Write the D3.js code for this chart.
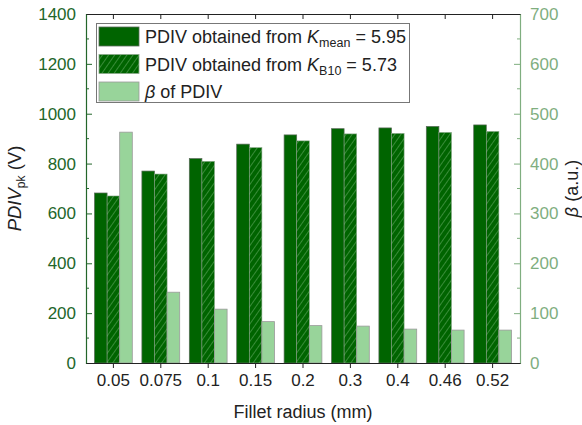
<!DOCTYPE html>
<html>
<head>
<meta charset="utf-8">
<script src="https://cdn.jsdelivr.net/npm/d3@7"></script>
<style>
  body { margin: 0; background: #fff; }
  svg { font-family: "Liberation Sans", Arial, sans-serif; }
</style>
</head>
<body>
<script>
const categories = ["0.05", "0.075", "0.1", "0.15", "0.2", "0.3", "0.4", "0.46", "0.52"];
const pdivMean = [682, 770, 820, 878, 915, 940, 943, 949, 955];
const pdivB10 = [670, 758, 809, 864, 891, 919, 921, 925, 929];
const beta = [463, 142, 108, 83, 75, 74, 68, 66, 66];
const leftTicks = [0, 200, 400, 600, 800, 1000, 1200, 1400];
const rightTicks = [0, 100, 200, 300, 400, 500, 600, 700];

main();

function main() {
  const width = 582, height = 425;
  const left = 86, right = 520, top = 14, bottom = 363;

  const darkGreen = "#006400";
  const lightGreen = "#98d49a";
  const leftCol = "#23662a";
  const rightCol = "#7fae7f";

  const svg = d3.select("body").append("svg")
    .attr("width", width).attr("height", height);

  const defs = svg.append("defs");
  const pat = defs.append("pattern")
    .attr("id", "hatch")
    .attr("patternUnits", "userSpaceOnUse")
    .attr("width", 5).attr("height", 5)
    .attr("patternTransform", "rotate(35)");
  pat.append("rect").attr("width", 5).attr("height", 5).attr("fill", darkGreen);
  pat.append("line").attr("x1", 0).attr("y1", 0).attr("x2", 0).attr("y2", 5)
    .attr("stroke", "#72b472").attr("stroke-width", 1);

  const x = d3.scaleBand().domain(categories).range([left, right])
    .paddingInner(0).paddingOuter(0.078);
  const yL = d3.scaleLinear().domain([0, 1400]).range([bottom, top]);
  const yR = d3.scaleLinear().domain([0, 700]).range([bottom, top]);
  const bw = 12.6;
  const cx = d => x(d) + x.bandwidth() / 2;

  // bars
  svg.append("g").selectAll("rect").data(categories).join("rect")
    .attr("x", d => cx(d) - 1.5 * bw)
    .attr("y", (d, i) => yL(pdivMean[i]))
    .attr("width", bw)
    .attr("height", (d, i) => bottom - yL(pdivMean[i]))
    .attr("fill", darkGreen).attr("stroke", "#5a6a5a").attr("stroke-width", 0.7);

  svg.append("g").selectAll("rect").data(categories).join("rect")
    .attr("x", d => cx(d) - 0.5 * bw)
    .attr("y", (d, i) => yL(pdivB10[i]))
    .attr("width", bw)
    .attr("height", (d, i) => bottom - yL(pdivB10[i]))
    .attr("fill", "url(#hatch)").attr("stroke", "#8aa88a").attr("stroke-width", 0.6);

  svg.append("g").selectAll("rect").data(categories).join("rect")
    .attr("x", d => cx(d) + 0.5 * bw)
    .attr("y", (d, i) => yR(beta[i]))
    .attr("width", bw)
    .attr("height", (d, i) => bottom - yR(beta[i]))
    .attr("fill", lightGreen).attr("stroke", "#9a9a9a").attr("stroke-width", 0.8);

  // left axis
  const gL = svg.append("g").attr("transform", `translate(${left},0)`)
    .call(d3.axisLeft(yL).tickValues(leftTicks).tickFormat(d3.format("d"))
      .tickSize(-6).tickPadding(10));
  gL.selectAll(".tick line").attr("stroke", leftCol);
  gL.selectAll(".tick text").attr("fill", leftCol).style("font-size", "17px");
  gL.select(".domain").attr("stroke", leftCol).attr("stroke-width", 1.2);
  gL.append("g").selectAll("line").data(d3.range(100, 1400, 200)).join("line")
    .attr("x1", 0).attr("x2", 3).attr("y1", d => yL(d)).attr("y2", d => yL(d))
    .attr("stroke", leftCol);

  // right axis
  const gR = svg.append("g").attr("transform", `translate(${right},0)`)
    .call(d3.axisRight(yR).tickValues(rightTicks).tickFormat(d3.format("d"))
      .tickSize(-6).tickPadding(10));
  gR.selectAll(".tick line").attr("stroke", rightCol);
  gR.selectAll(".tick text").attr("fill", rightCol).style("font-size", "17px");
  gR.select(".domain").attr("stroke", rightCol).attr("stroke-width", 1.2);
  gR.append("g").selectAll("line").data(d3.range(50, 700, 100)).join("line")
    .attr("x1", 0).attr("x2", -3).attr("y1", d => yR(d)).attr("y2", d => yR(d))
    .attr("stroke", rightCol);

  // bottom axis
  const gB = svg.append("g").attr("transform", `translate(0,${bottom})`)
    .call(d3.axisBottom(x).tickSize(5).tickPadding(6).tickSizeOuter(0));
  gB.selectAll(".tick text").attr("fill", "#222").style("font-size", "17px");
  gB.select(".domain").attr("stroke", "#222").attr("stroke-width", 1.2);
  gB.selectAll(".tick line").attr("stroke", "#222");

  // top axis
  const gT = svg.append("g").attr("transform", `translate(0,${top})`)
    .call(d3.axisTop(x).tickSize(-5).tickFormat("").tickSizeOuter(0));
  gT.select(".domain").attr("stroke", "#222").attr("stroke-width", 1.2);
  gT.selectAll(".tick line").attr("stroke", "#222");

  // axis titles
  svg.append("text").attr("x", (left + right) / 2).attr("y", 418)
    .attr("text-anchor", "middle").attr("fill", "#222").style("font-size", "18px")
    .text("Fillet radius (mm)");

  const tl = svg.append("text")
    .attr("transform", `translate(21,${(top + bottom) / 2}) rotate(-90)`)
    .attr("text-anchor", "middle").attr("fill", "#222").style("font-size", "18.5px");
  tl.append("tspan").style("font-style", "italic").text("PDIV");
  tl.append("tspan").attr("dy", 4).style("font-size", "12px").text("pk");
  tl.append("tspan").attr("dy", -4).text(" (V)");

  const tr = svg.append("text")
    .attr("transform", `translate(578,${(top + bottom) / 2}) rotate(-90)`)
    .attr("text-anchor", "middle").attr("fill", "#222").style("font-size", "18px");
  tr.append("tspan").style("font-style", "italic").text("β");
  tr.append("tspan").text(" (a.u.)");

  // legend
  const lg = svg.append("g");
  lg.append("rect").attr("x", 96.5).attr("y", 23.5).attr("width", 313).attr("height", 79)
    .attr("fill", "#fff").attr("stroke", "#777").attr("stroke-width", 1);
  const rows = [
    { fill: darkGreen, stroke: "#5a6a5a", sub: "mean", val: "5.95" },
    { fill: "url(#hatch)", stroke: "#8aa88a", sub: "B10", val: "5.73" },
    { fill: lightGreen, stroke: "#9a9a9a" }
  ];
  rows.forEach((r, i) => {
    const y0 = 27 + i * 27.5;
    lg.append("rect").attr("x", 99).attr("y", y0).attr("width", 40).attr("height", 19)
      .attr("fill", r.fill).attr("stroke", r.stroke).attr("stroke-width", 0.8);
    const t = lg.append("text").attr("x", 145).attr("y", y0 + 16)
      .attr("fill", "#222").style("font-size", "18px");
    if (r.sub) {
      t.append("tspan").text("PDIV obtained from ");
      t.append("tspan").style("font-style", "italic").text("K");
      t.append("tspan").attr("dy", 4).style("font-size", "12.5px").text(r.sub);
      t.append("tspan").attr("dy", -4).text(" = " + r.val);
    } else {
      t.append("tspan").style("font-style", "italic").text("β");
      t.append("tspan").text(" of PDIV");
    }
  });
}
</script>
</body>
</html>
